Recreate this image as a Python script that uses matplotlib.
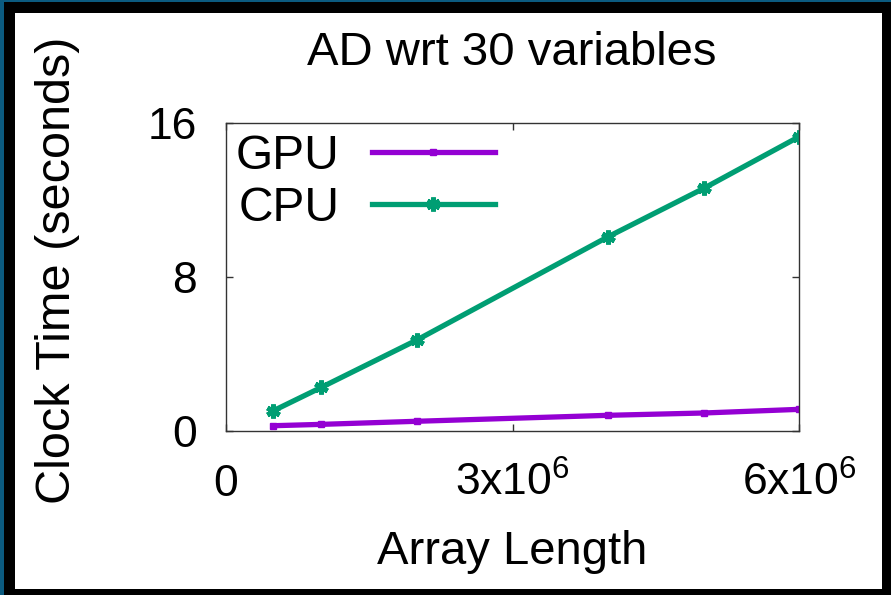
import matplotlib
matplotlib.use("Agg")
import matplotlib.pyplot as plt
from matplotlib.patches import Rectangle

plt.rcParams["font.family"] = ["Liberation Sans", "DejaVu Sans"]
plt.rcParams["mathtext.fontset"] = "custom"
plt.rcParams["mathtext.rm"] = "Liberation Sans"
plt.rcParams["mathtext.it"] = "Liberation Sans"

# Data
array_length = [0.5e6, 1e6, 2e6, 4e6, 5e6, 6e6]
gpu_time = [0.26, 0.33, 0.49, 0.80, 0.92, 1.11]
cpu_time = [1.04, 2.25, 4.71, 10.07, 12.58, 15.27]

x_ticks = [0, 3e6, 6e6]
x_tick_labels = ["0", "3x10$^{6}$", "6x10$^{6}$"]
y_ticks = [0, 8, 16]

fig = plt.figure(figsize=(8.91, 5.95), dpi=100)
fig.patch.set_facecolor("black")

# white canvas inside the dark frame, plus thin blue strips
fig.add_artist(Rectangle((15 / 891, 6 / 595), 867 / 891, 576 / 595,
                         transform=fig.transFigure, facecolor="white",
                         edgecolor="none", zorder=-10))
fig.add_artist(Rectangle((0, 0), 4 / 891, 1, transform=fig.transFigure,
                         facecolor="#0b5b80", edgecolor="none", zorder=-9))
fig.add_artist(Rectangle((0, 1 - 2 / 595), 1, 2 / 595, transform=fig.transFigure,
                         facecolor="#0b5b80", edgecolor="none", zorder=-9))

ax = fig.add_axes([0.2533, 0.2761, 0.6438, 0.518])
ax.set_facecolor("white")

ax.plot(array_length, gpu_time, color="#9400d3", lw=3.8,
        marker="s", ms=5, label="GPU")
ax.plot(array_length, cpu_time, color="#009e73", lw=3.8,
        marker=(6, 2, 0), ms=10, mew=3.5, label="CPU")

ax.set_xlim(0, 6e6)
ax.set_ylim(0, 16)
ax.set_xticks(x_ticks)
ax.set_xticklabels(x_tick_labels)
ax.set_yticks(y_ticks)

ax.tick_params(direction="in", length=5, width=1, top=True, right=True,
               labelsize=32, colors="#333333", labelcolor="black")
ax.tick_params(axis="x", pad=47)
ax.tick_params(axis="y", pad=21)
for lab in ax.get_xticklabels():
    lab.set_va("baseline")

for sp in ax.spines.values():
    sp.set_color("#333333")
    sp.set_linewidth(1.0)

ax.set_xlabel("Array Length", fontsize=34, va="center")
ax.xaxis.set_label_coords(0.5, -0.395)
ax.set_ylabel("Clock Time (seconds)", fontsize=35, va="center")
ax.yaxis.set_label_coords(-0.293, 0.52)

fig.text(512 / 891, 1 - 53 / 595, "AD wrt 30 variables", fontsize=34,
         ha="center", va="center")

ax.legend(loc="upper left", bbox_to_anchor=(0.018, 0.962), frameon=False,
          markerfirst=False, fontsize=34.5, handlelength=2.55, handletextpad=0.68,
          labelspacing=0.14, borderpad=0, borderaxespad=0, numpoints=1)

fig.savefig("out.png", dpi=100, facecolor=fig.get_facecolor())
